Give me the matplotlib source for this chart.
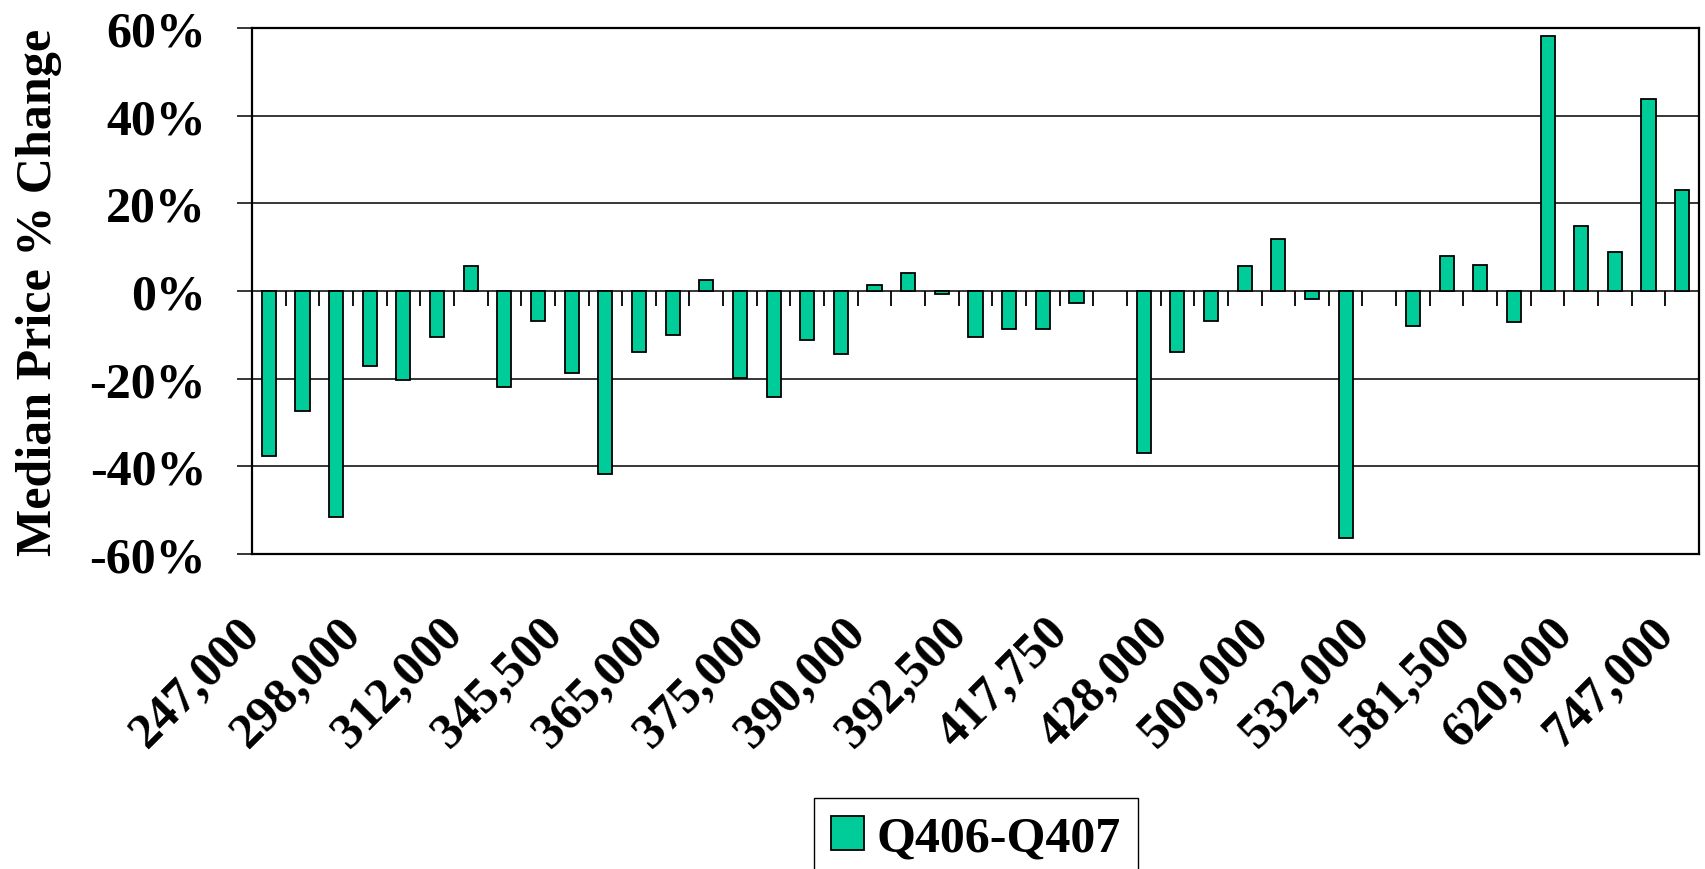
import numpy as np
import matplotlib
matplotlib.use("Agg")
import matplotlib.pyplot as plt
import matplotlib.transforms as mtransforms

plt.rcParams['font.family'] = ['Liberation Serif', 'DejaVu Serif']
plt.rcParams['font.weight'] = 'bold'

# 43 categories, every 3rd one labelled
tick_labels = ["247,000", "298,000", "312,000", "345,500", "365,000",
               "375,000", "390,000", "392,500", "417,750", "428,000",
               "500,000", "532,000", "581,500", "620,000", "747,000"]

# Q406-Q407 median price % change (nan = no bar)
changes = [-37.7, -27.3, -51.6, -17.0, -20.3, -10.6, 5.7, -21.9, -6.8, -18.6,
           -41.7, -13.9, -10.0, 2.4, -19.8, -24.2, -11.1, -14.3, 1.3, 4.0,
           -0.7, -10.6, -8.7, -8.7, -2.8, np.nan, -37.0, -13.9, -6.8, 5.7,
           11.9, -1.9, -56.4, np.nan, -7.9, 8.0, 6.0, -7.1, 58.1, 14.8,
           8.8, 43.8, 23.0]
series_name = "Q406-Q407"

n = len(changes)
x = np.arange(n)

fig = plt.figure(figsize=(17.06, 8.70), dpi=100)
ax = fig.add_axes([252/1706, 1-555/870, 1447/1706, (555-29)/870])

ax.bar(x, changes, width=0.42, color="#00CC99", edgecolor="black",
       linewidth=1.3, label=series_name, zorder=3)

ax.set_xlim(-0.5, n - 0.5)
ax.set_ylim(-60, 60)
ax.set_yticks(range(-60, 61, 20))
ax.set_yticklabels([f"{v}%" for v in range(-60, 61, 20)])
ax.yaxis.grid(True, color="black", linewidth=1.1, zorder=0)
ax.tick_params(axis='y', length=11, width=1.1, pad=22, labelsize=36)

for s in ax.spines.values():
    s.set_linewidth(1.6)
    s.set_color("black")

# category labels at the bottom
ax.set_xticks(x[::3])
ax.set_xticklabels(tick_labels, rotation=45, ha='right', va='center',
                   rotation_mode='anchor', fontsize=36)
ax.tick_params(axis='x', length=0, pad=51)
shift = mtransforms.ScaledTranslation(-0.16, 0, fig.dpi_scale_trans)
for lab in ax.get_xticklabels():
    lab.set_transform(lab.get_transform() + shift)

# boundary ticks hanging from the zero line
zero_ax = ax.secondary_xaxis(0, transform=ax.transData)
zero_ax.set_xticks(np.arange(n - 1) + 0.5)
zero_ax.set_xticklabels([])
zero_ax.tick_params(axis='x', length=11, width=1.3, direction='out')
zero_ax.spines['bottom'].set_visible(False)

ax.set_ylabel("Median Price % Change", fontsize=36, fontweight='bold')
ax.yaxis.set_label_coords(-0.131, 0.5)

fig.legend(loc='upper center', bbox_to_anchor=(976/1706, 1-799/870),
           fontsize=36, frameon=True, fancybox=False, edgecolor="black",
           framealpha=1, borderaxespad=0, handlelength=0.66,
           handleheight=0.66, handletextpad=0.25, borderpad=0.35)

fig.savefig("out.png", dpi=100)
